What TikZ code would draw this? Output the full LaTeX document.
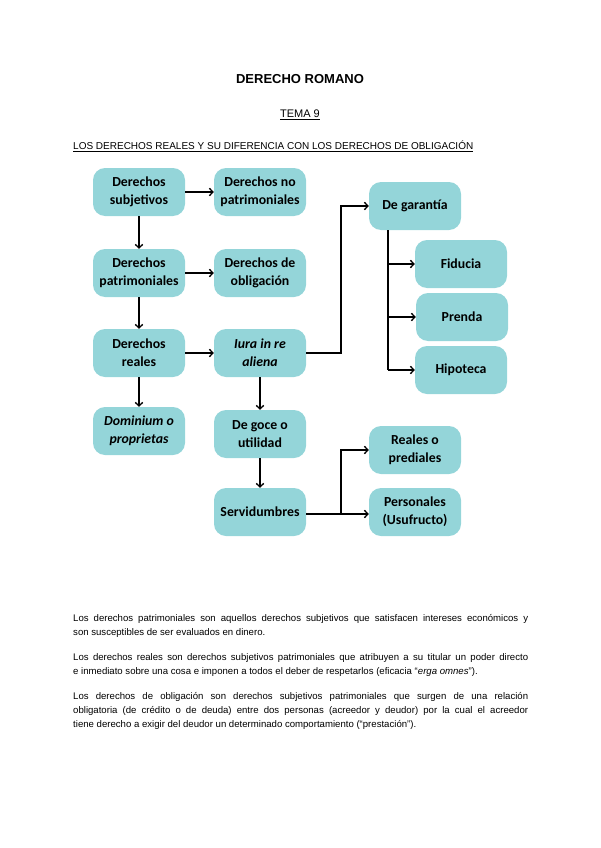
\documentclass[tikz,border=0pt]{standalone}
\usepackage{fontspec}
\setmainfont{Liberation Sans}
\newfontfamily\boxfont{Carlito}
\usetikzlibrary{arrows.meta}
\definecolor{boxteal}{RGB}{148,213,217}
\begin{document}
\begin{tikzpicture}[x=1pt,y=-1pt,
  cbox/.style={fill=boxteal,rounded corners=12pt,minimum width=92pt,minimum height=48pt,
    align=center,inner sep=1pt,font=\boxfont\bfseries\fontsize{13.8}{18}\selectfont},
  conn/.style={line width=1.3pt,-{Straight Barb[length=3.5pt,width=7.5pt,line width=1.3pt]}},
  plain/.style={line width=1.3pt},
  para/.style={anchor=north west,inner sep=0pt,text width=455pt,align=justify,font=\fontsize{9.6}{14}\selectfont}]
\useasboundingbox (0,0) rectangle (600,848);
\node[font=\bfseries\fontsize{13}{15}\selectfont] (title) at (300,79) {DERECHO ROMANO};
\node[font=\fontsize{11}{13}\selectfont] (tema) at (300,115) {\underline{TEMA 9}};
\node[font=\fontsize{10}{12}\selectfont,anchor=west,inner sep=0pt] (head) at (73,146) {\underline{LOS DERECHOS REALES Y SU DIFERENCIA CON LOS DERECHOS DE OBLIGACIÓN}};

\node[cbox] (subj) at (139,192) {Derechos\\subjetivos};
\node[cbox] (nopat) at (260,192) {Derechos no\\patrimoniales};
\node[cbox] (pat) at (139,273) {Derechos\\patrimoniales};
\node[cbox] (obl) at (260,273) {Derechos de\\obligación};
\node[cbox] (real) at (139,353) {Derechos\\reales};
\node[cbox] (iura) at (260,353) {\itshape Iura in re\\\itshape aliena};
\node[cbox] (dom) at (139,431) {\itshape Dominium o\\\itshape proprietas};
\node[cbox] (goce) at (260,434) {De goce o\\utilidad};
\node[cbox] (serv) at (260,512) {Servidumbres};
\node[cbox] (gar) at (415,206) {De garantía};
\node[cbox] (fid) at (461,264) {Fiducia};
\node[cbox] (pre) at (462,317) {Prenda};
\node[cbox] (hip) at (461,370) {Hipoteca};
\node[cbox] (pred) at (415,450) {Reales o\\prediales};
\node[cbox] (pers) at (415,512) {Personales\\(Usufructo)};

\coordinate (j1) at (341,353);
\coordinate (j2) at (341,514);
\coordinate (g0) at (388,230);
\coordinate (g1) at (388,264);
\coordinate (g2) at (388,317);
\coordinate (g3) at (388,370);

\draw[conn] (subj) -- (nopat);
\draw[conn] (subj) -- (pat);
\draw[conn] (pat) -- (obl);
\draw[conn] (pat) -- (real);
\draw[conn] (real) -- (iura);
\draw[conn] (real) -- (dom);
\draw[conn] (iura) -- (goce);
\draw[conn] (goce) -- (serv);
\draw[conn] (iura.east |- j1) -- (j1) |- (gar.west);
\draw[plain] (g0) -- (g3);
\draw[conn] (g1) -- (fid.west |- g1);
\draw[conn] (g2) -- (pre.west |- g2);
\draw[conn] (g3) -- (hip.west |- g3);
\draw[conn] (serv.east |- j2) -- (pers.west |- j2);
\draw[conn] (j2) |- (pred.west);

\node[para] (p1) at (73,614)
{Los derechos patrimoniales son aquellos derechos subjetivos que satisfacen intereses económicos y\linebreak son susceptibles de ser evaluados en dinero.};
\node[para] (p2) at (73,653)
{Los derechos reales son derechos subjetivos patrimoniales que atribuyen a su titular un poder directo\linebreak e inmediato sobre una cosa e imponen a todos el deber de respetarlos (eficacia “\textit{erga omnes}”).};
\node[para] (p3) at (73,692)
{Los derechos de obligación son derechos subjetivos patrimoniales que surgen de una relación\linebreak obligatoria (de crédito o de deuda) entre dos personas (acreedor y deudor) por la cual el acreedor\linebreak tiene derecho a exigir del deudor un determinado comportamiento (“prestación”).};
\end{tikzpicture}
\end{document}
